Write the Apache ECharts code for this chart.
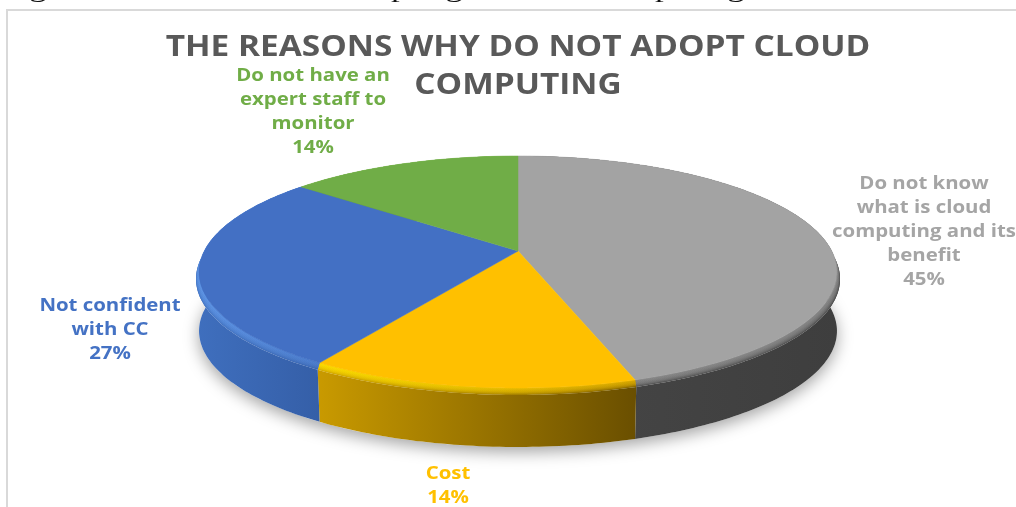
<!DOCTYPE html>
<html>
<head>
<meta charset="utf-8">
<style>html,body{margin:0;padding:0;background:#fff}#chart{width:1016px;height:507px}</style>
<script src="https://cdn.jsdelivr.net/npm/echarts@6/dist/echarts.min.js"></script>
</head>
<body>
<div id="chart"></div>
<script>
// Share of respondents per reason, clockwise from twelve o'clock.
const reasons = [
  'Do not know\nwhat is cloud\ncomputing and its\nbenefit',
  'Cost',
  'Not confident\nwith CC',
  'Do not have an\nexpert staff to\nmonitor'
];
const shares = [45, 14, 27, 14];
const topColors = ['#A3A3A3', '#FFC000', '#4370C4', '#70AD47'];
const labelColors = ['#A5A5A5', '#FFC000', '#4472C4', '#70AD47'];
const wallStops = [
  ['#474747', '#3E3E3E'],
  ['#C99A00', '#6A4F00'],
  ['#3F6FBE', '#355FA8'],
  ['#4E7A30', '#4E7A30']
];
const bevelStops = [
  ['#8C8C8C', '#8C8C8C'],
  ['#FFE000', '#E0AE00'],
  ['#6198E8', '#4F80D0'],
  ['#8CCB5E', '#8CCB5E']
];
const titleText = 'THE REASONS WHY DO NOT ADOPT CLOUD\nCOMPUTING';
const captionText = 'Figure 5: Reason of not adopting to cloud computing';

// Perspective disc: apex of the slices, half axes and foreshortening.
const disc = { cx: 518, cy: 251, a: 313.7, b: 112.2, k: 0.181 };
// Cross-section of the edge, from the flat face outwards and down.
const bevel = { scale: 1.0095, drop: 7, bands: 10 };
const wall = { scale: 1.0, drop: 59 };
const labelSpots = [[924, 172.5], [448, 462], [110, 294], [313, 64]];

const total = shares.reduce((s, v) => s + v, 0);
const startAngles = shares.map((_, i) =>
  shares.slice(0, i).reduce((s, v) => s + v, 0) / total * Math.PI * 2);

// Projects a disc angle onto the page at a given edge scale and vertical drop.
function project(theta, scale, drop) {
  const u = Math.sin(theta), v = -Math.cos(theta);
  const d = 1 - disc.k * v;
  return [disc.cx + scale * disc.a * u / d, disc.cy + disc.b * v / d + drop];
}
function arc(from, to, scale, drop) {
  const n = Math.max(2, Math.ceil((to - from) / (Math.PI / 180)));
  const pts = [];
  for (let i = 0; i <= n; i++) pts.push(project(from + (to - from) * i / n, scale, drop));
  return pts;
}
function sliceRange(api, i) {
  const from = startAngles[i];
  return [from, from + api.value(0) / total * Math.PI * 2];
}
function sideGradient(points, stops) {
  const xs = points.map(p => p[0]);
  return new echarts.graphic.LinearGradient(
    Math.min(...xs), 0, Math.max(...xs), 0,
    [{ offset: 0, color: stops[0] }, { offset: 1, color: stops[1] }], true);
}

function renderShadow() {
  return {
    type: 'polygon',
    shape: { points: arc(0, Math.PI * 2, wall.scale, wall.drop) },
    style: { fill: '#ffffff', shadowBlur: 16, shadowColor: 'rgba(0,0,0,0.36)', shadowOffsetY: 5 }
  };
}
function renderWall(params, api) {
  const i = params.dataIndex;
  const [from, to] = sliceRange(api, i);
  const upper = arc(from, to, 1, 0);
  const outer = arc(from, to, bevel.scale, bevel.drop);
  const lower = arc(from, to, wall.scale, wall.drop);
  const wallFill = sideGradient(outer, wallStops[i]);
  const children = [
    { type: 'polygon', shape: { points: outer.concat(lower.slice().reverse()) }, style: { fill: wallFill } },
    { type: 'polygon', shape: { points: upper.concat(outer.slice().reverse()) }, style: { fill: wallFill } }
  ];
  // Rounded edge: nested translucent bands build up a highlight that fades downwards.
  const glow = sideGradient(outer, bevelStops[i]);
  for (let s = bevel.bands; s >= 1; s--) {
    const f = s / bevel.bands;
    const level = arc(from, to, 1 + (bevel.scale - 1) * f, bevel.drop * f);
    children.push({
      type: 'polygon',
      shape: { points: upper.concat(level.reverse()) },
      style: { fill: glow, opacity: 0.22 }
    });
  }
  return { type: 'group', children };
}
function renderTop(params, api) {
  const i = params.dataIndex;
  const [from, to] = sliceRange(api, i);
  return {
    type: 'polygon',
    shape: { points: [[disc.cx, disc.cy]].concat(arc(from, to, 1, 0)) },
    style: { fill: topColors[i], stroke: topColors[i], lineWidth: 0.5 }
  };
}
function renderLabel(params, api) {
  const i = params.dataIndex;
  return {
    type: 'text',
    x: labelSpots[i][0],
    y: labelSpots[i][1],
    scaleX: 1.2,
    style: {
      text: reasons[i] + '\n' + api.value(0) + '%',
      fill: labelColors[i],
      font: 'bold 17px "Open Sans"',
      lineHeight: 24,
      align: 'center',
      verticalAlign: 'top'
    }
  };
}

const chart = echarts.init(document.getElementById('chart'), null, { renderer: 'canvas' });
chart.setOption({
  animation: false,
  backgroundColor: '#ffffff',
  graphic: [
    {
      type: 'rect', z: 0, silent: true,
      shape: { x: 7, y: 10, width: 1020, height: 510 },
      style: { fill: 'none', stroke: '#D9D9D9', lineWidth: 2 }
    },
    {
      type: 'text', z: 1, silent: true,
      x: 0, y: 3, scaleX: 1.35,
      style: {
        text: captionText, fill: '#111111',
        font: '26px "Liberation Serif"', verticalAlign: 'bottom', align: 'left'
      }
    },
    {
      type: 'text', z: 1, silent: true,
      x: 518, y: 29, scaleX: 1.152,
      style: {
        text: titleText, fill: '#595959',
        font: 'bold 29px "Open Sans"', lineHeight: 37.5,
        align: 'center', verticalAlign: 'top'
      }
    }
  ],
  series: [
    { type: 'custom', coordinateSystem: 'none', z: 2, silent: true, data: [1], renderItem: renderShadow },
    { type: 'custom', coordinateSystem: 'none', z: 3, silent: true, data: shares, renderItem: renderWall },
    { type: 'custom', coordinateSystem: 'none', z: 4, silent: true, data: shares, renderItem: renderTop },
    { type: 'custom', coordinateSystem: 'none', z: 5, silent: true, data: shares, renderItem: renderLabel }
  ]
});
</script>
</body>
</html>
